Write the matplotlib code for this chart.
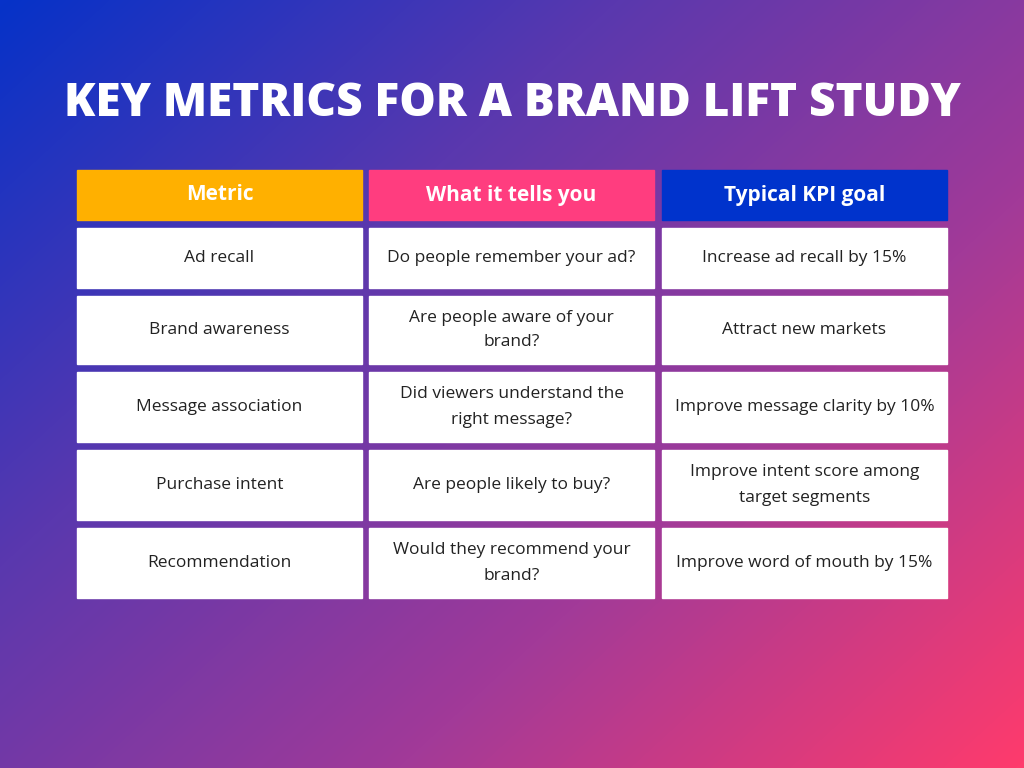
import matplotlib.pyplot as plt
import numpy as np
from matplotlib.colors import LinearSegmentedColormap
from matplotlib.patches import Rectangle

title = "KEY METRICS FOR A BRAND LIFT STUDY"
headers = ["Metric", "What it tells you", "Typical KPI goal"]
header_colors = ["#FFB000", "#FF3D7F", "#0033CC"]
metrics = ["Ad recall", "Brand awareness", "Message association",
           "Purchase intent", "Recommendation"]
tells = ["Do people remember your ad?", "Are people aware of your\nbrand?",
         "Did viewers understand the\nright message?", "Are people likely to buy?",
         "Would they recommend your\nbrand?"]
goals = ["Increase ad recall by 15%", "Attract new markets",
         "Improve message clarity by 10%",
         "Improve intent score among\ntarget segments",
         "Improve word of mouth by 15%"]

fig = plt.figure(figsize=(10.24, 7.68), dpi=100)
ax = fig.add_axes([0, 0, 1, 1])
ax.set_xlim(0, 1024)
ax.set_ylim(768, 0)
ax.axis("off")

# diagonal gradient background
yy, xx = np.mgrid[0:768, 0:1024]
t = (xx / 1024 * 0.55 + yy / 768 * 0.45)
cmap = LinearSegmentedColormap.from_list(
    "bg", ["#0632C8", "#5A38AE", "#A23A98", "#FF3B6C"])
ax.imshow(t, cmap=cmap, extent=(0, 1024, 768, 0), aspect="auto", zorder=0)

ax.text(512, 104, title, color="white", fontsize=33, fontweight="heavy",
        family="Open Sans", ha="center", va="center")

col_x = [77, 369, 662]
col_w = 285
for x, h, c in zip(col_x, headers, header_colors):
    ax.add_patch(Rectangle((x, 170), col_w, 50, color=c, zorder=2))
    ax.text(x + col_w / 2, 195, h, color="white", fontsize=15, fontweight="bold",
            family="Open Sans", ha="center", va="center", zorder=3)

row_tops = [228, 296, 372, 450, 528]
row_h = [60, 68, 70, 70, 70]
for i, (top, h) in enumerate(zip(row_tops, row_h)):
    for x, txt in zip(col_x, [metrics[i], tells[i], goals[i]]):
        ax.add_patch(Rectangle((x, top), col_w, h, color="white", zorder=2))
        ax.text(x + col_w / 2, top + h / 2, txt, color="#222222", fontsize=12.5,
                family="Open Sans", ha="center", va="center",
                linespacing=1.75, zorder=3)

fig.savefig("out.png", dpi=100)
